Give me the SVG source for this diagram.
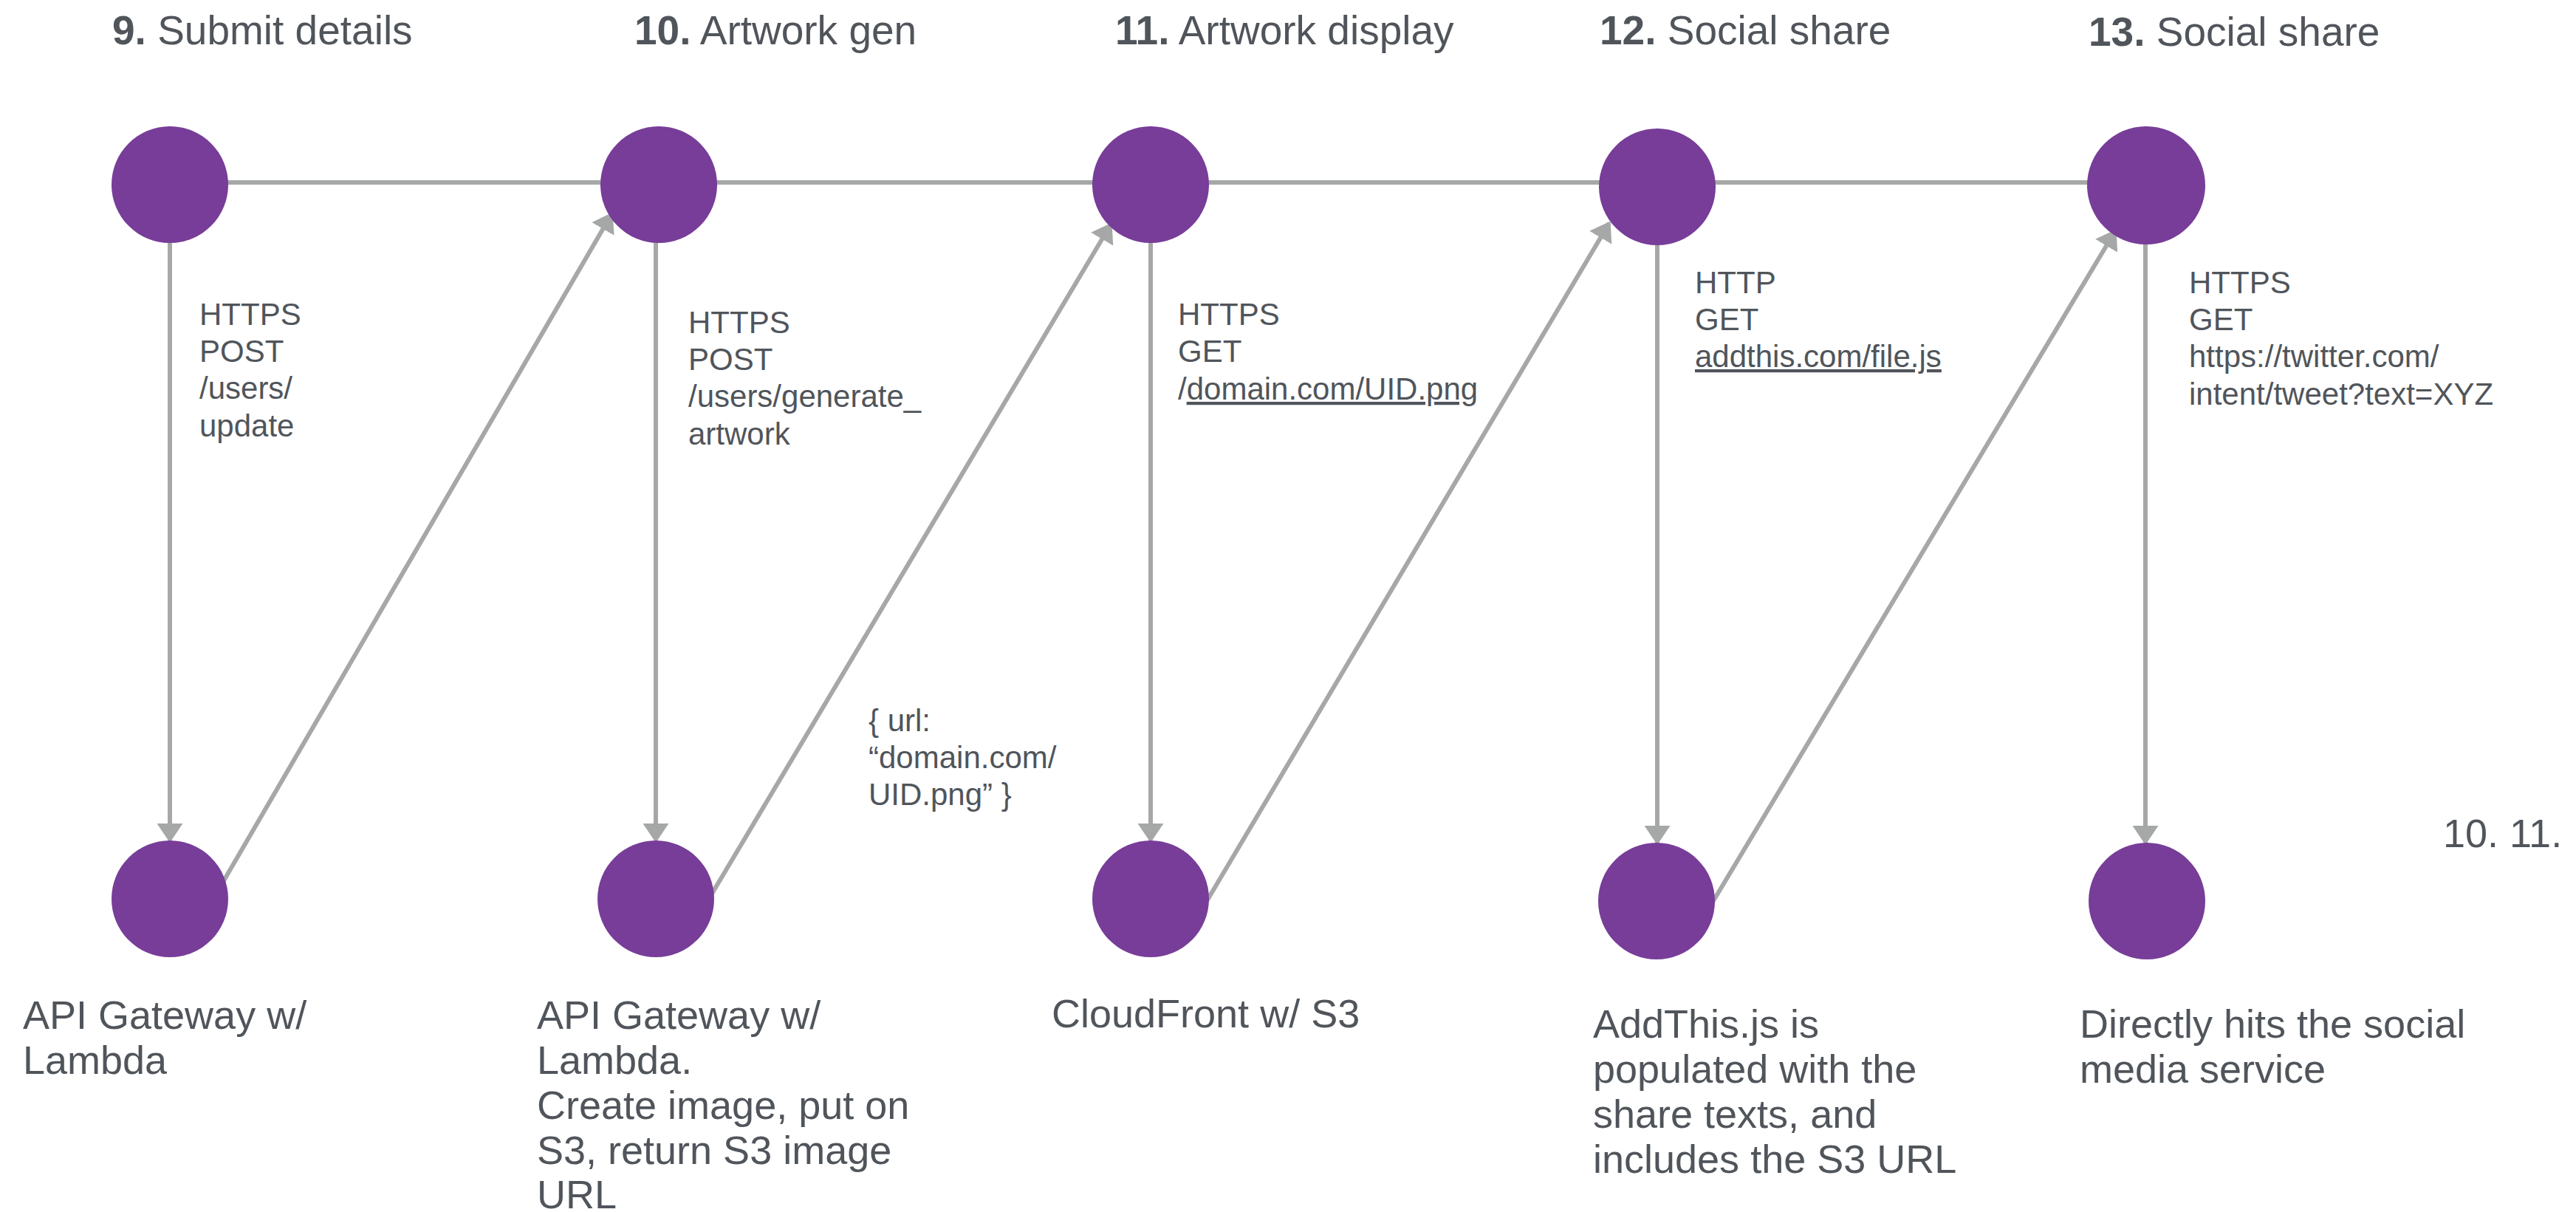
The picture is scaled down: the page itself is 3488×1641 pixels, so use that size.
<svg xmlns="http://www.w3.org/2000/svg" width="3488" height="1641" viewBox="0 0 3488 1641">
<style>
text{font-family:"Liberation Sans",Arial,sans-serif;fill:#50555b}
.title{font-size:55px}
.num{font-weight:700}
.lbl{font-size:42px}
.node-lbl{font-size:54px}
.u{text-decoration:underline}
.node circle{fill:#773d98}
.conn line{stroke:#a5a8a7;stroke-width:6;fill:none}
.arrow line{marker-end:url(#ah)}
</style>
<defs>
<marker id="ah" markerUnits="userSpaceOnUse" markerWidth="26" markerHeight="35" refX="23" refY="17.5" orient="auto">
<path d="M0,0 L26,17.5 L0,35 Z" fill="#a5a8a7"/>
</marker>
</defs>
<rect width="3488" height="1641" fill="#ffffff"/>

<g id="titles">
<text class="title" x="152" y="60"><tspan class="num">9.</tspan> Submit details</text>
<text class="title" x="859" y="60"><tspan class="num">10.</tspan> Artwork gen</text>
<text class="title" x="1510" y="60"><tspan class="num">11.</tspan> Artwork display</text>
<text class="title" x="2166" y="60"><tspan class="num">12.</tspan> Social share</text>
<text class="title" x="2828" y="62"><tspan class="num">13.</tspan> Social share</text>
</g>

<g id="connectors" class="conn">
<line x1="230" y1="247" x2="2906" y2="247"/>
<g class="arrow">
<line x1="230" y1="329" x2="230" y2="1138"/>
<line x1="888" y1="329" x2="888" y2="1138"/>
<line x1="1558" y1="329" x2="1558" y2="1138"/>
<line x1="2244" y1="332" x2="2244" y2="1141"/>
<line x1="2905" y1="330" x2="2905" y2="1141"/>
<line x1="298" y1="1201" x2="828" y2="290"/>
<line x1="958" y1="1220" x2="1504" y2="304"/>
<line x1="1634" y1="1220" x2="2179" y2="302"/>
<line x1="2318" y1="1223" x2="2864" y2="313"/>
</g>
</g>

<g id="edge-labels">
<text class="lbl" x="270" y="440">HTTPS</text>
<text class="lbl" x="270" y="490">POST</text>
<text class="lbl" x="270" y="540">/users/</text>
<text class="lbl" x="270" y="591">update</text>

<text class="lbl" x="932" y="451">HTTPS</text>
<text class="lbl" x="932" y="501">POST</text>
<text class="lbl" x="932" y="551">/users/generate_</text>
<text class="lbl" x="932" y="602">artwork</text>

<text class="lbl" x="1176" y="990">{ url:</text>
<text class="lbl" x="1176" y="1040">“domain.com/</text>
<text class="lbl" x="1176" y="1090">UID.png” }</text>

<text class="lbl" x="1595" y="440">HTTPS</text>
<text class="lbl" x="1595" y="490">GET</text>
<text class="lbl" x="1595" y="541">/<tspan class="u">domain.com/UID.png</tspan></text>

<text class="lbl" x="2295" y="397">HTTP</text>
<text class="lbl" x="2295" y="447">GET</text>
<text class="lbl" x="2295" y="497"><tspan class="u">addthis.com/file.js</tspan></text>

<text class="lbl" x="2964" y="397">HTTPS</text>
<text class="lbl" x="2964" y="447">GET</text>
<text class="lbl" x="2964" y="497">https://twitter.com/</text>
<text class="lbl" x="2964" y="548">intent/tweet?text=XYZ</text>
</g>

<g id="node-t1" class="node"><circle cx="230" cy="250" r="79"/></g>
<g id="node-t2" class="node"><circle cx="892" cy="250" r="79"/></g>
<g id="node-t3" class="node"><circle cx="1558" cy="250" r="79"/></g>
<g id="node-t4" class="node"><circle cx="2244" cy="253" r="79"/></g>
<g id="node-t5" class="node"><circle cx="2906" cy="251" r="80"/></g>

<g id="node-b1" class="node"><circle cx="230" cy="1217" r="79"/>
<text class="node-lbl" x="31" y="1393">API Gateway w/</text>
<text class="node-lbl" x="31" y="1454">Lambda</text></g>
<g id="node-b2" class="node"><circle cx="888" cy="1217" r="79"/>
<text class="node-lbl" x="727" y="1393">API Gateway w/</text>
<text class="node-lbl" x="727" y="1454">Lambda.</text>
<text class="node-lbl" x="727" y="1515">Create image, put on</text>
<text class="node-lbl" x="727" y="1576">S3, return S3 image</text>
<text class="node-lbl" x="727" y="1636">URL</text></g>
<g id="node-b3" class="node"><circle cx="1558" cy="1217" r="79"/>
<text class="node-lbl" x="1424" y="1391">CloudFront w/ S3</text></g>
<g id="node-b4" class="node"><circle cx="2243" cy="1220" r="79"/>
<text class="node-lbl" x="2157" y="1405">AddThis.js is</text>
<text class="node-lbl" x="2157" y="1466">populated with the</text>
<text class="node-lbl" x="2157" y="1527">share texts, and</text>
<text class="node-lbl" x="2157" y="1588">includes the S3 URL</text></g>
<g id="node-b5" class="node"><circle cx="2907" cy="1220" r="79"/>
<text class="node-lbl" x="2816" y="1405">Directly hits the social</text>
<text class="node-lbl" x="2816" y="1466">media service</text></g>

<g id="stray-text">
<text class="node-lbl" x="3308" y="1147">10. 11.</text>
</g>
</svg>
